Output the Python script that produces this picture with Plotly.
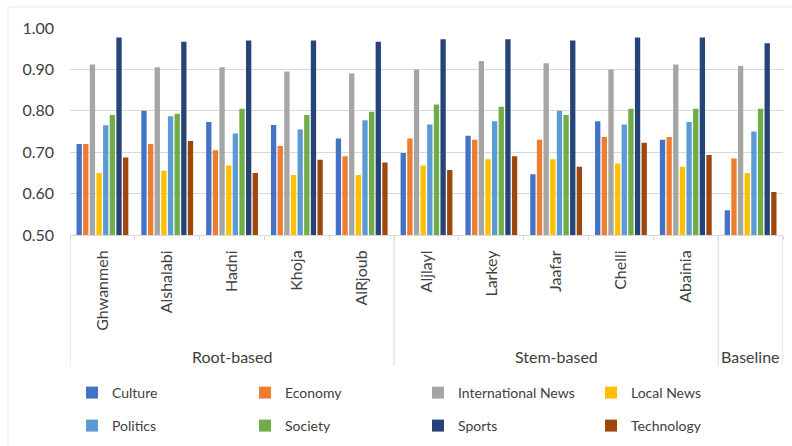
import plotly.graph_objects as go

methods = ["Ghwanmeh", "Alshalabi", "Hadni", "Khoja", "AlRjoub",
           "Aljlayl", "Larkey", "Jaafar", "Chelli", "Abainia", "Baseline_"]
method_labels = ["Ghwanmeh", "Alshalabi", "Hadni", "Khoja", "AlRjoub",
                 "Aljlayl", "Larkey", "Jaafar", "Chelli", "Abainia", ""]
groups = ["Root-based", "Stem-based", "Baseline"]
group_spans = [(-0.5, 4.5), (4.5, 9.5), (9.5, 10.5)]

culture = [0.72, 0.80, 0.773, 0.766, 0.733, 0.698, 0.740, 0.647, 0.775, 0.730, 0.560]
economy = [0.72, 0.72, 0.705, 0.715, 0.690, 0.733, 0.730, 0.730, 0.737, 0.737, 0.685]
international = [0.912, 0.905, 0.905, 0.895, 0.890, 0.900, 0.920, 0.915, 0.900, 0.912, 0.908]
local_news = [0.650, 0.655, 0.668, 0.645, 0.645, 0.668, 0.683, 0.683, 0.673, 0.665, 0.650]
politics = [0.765, 0.787, 0.745, 0.755, 0.777, 0.767, 0.775, 0.800, 0.767, 0.773, 0.750]
society = [0.790, 0.793, 0.805, 0.790, 0.798, 0.815, 0.810, 0.790, 0.805, 0.805, 0.805]
sports = [0.977, 0.967, 0.970, 0.970, 0.967, 0.973, 0.973, 0.970, 0.977, 0.977, 0.963]
technology = [0.687, 0.727, 0.650, 0.682, 0.675, 0.657, 0.690, 0.665, 0.723, 0.693, 0.604]

series = [
    ("Culture", culture, "#4472C4", "legend"),
    ("Economy", economy, "#ED7D31", "legend"),
    ("International News", international, "#A5A5A5", "legend"),
    ("Local News", local_news, "#FFC000", "legend"),
    ("Politics", politics, "#5B9BD5", "legend2"),
    ("Society", society, "#70AD47", "legend2"),
    ("Sports", sports, "#264478", "legend2"),
    ("Technology", technology, "#9E480E", "legend2"),
]

FONT = "Lato"
TXT = "#404040"
GRID = "#D9D9D9"

fig = go.Figure()
for name, vals, color, lg in series:
    fig.add_trace(go.Bar(x=methods, y=vals, name=name, marker_color=color,
                         marker_line_width=0, legend=lg))

W, H = 792, 446
L, R, T, B = 70, 9, 28, 211
pw, ph = W - L - R, H - T - B

def py(p):
    return (H - B - p) / ph

def px(p):
    return (p - L) / pw

shapes = []
# divider lines under the category axis
for xv in [-0.5, 4.5, 9.5, 10.5]:
    shapes.append(dict(type="line", xref="x", yref="paper", x0=xv, x1=xv,
                       y0=0, y1=py(366), line=dict(color=GRID, width=1)))
# chart border
shapes.append(dict(type="line", xref="paper", yref="paper", x0=px(8), x1=px(800),
                   y0=py(7), y1=py(7), line=dict(color="#E6E6E6", width=1)))
shapes.append(dict(type="line", xref="paper", yref="paper", x0=px(8), x1=px(8),
                   y0=py(7), y1=py(450), line=dict(color="#E6E6E6", width=1)))

annotations = []
for g, (a, b) in zip(groups, group_spans):
    annotations.append(dict(text=g, xref="x", yref="paper", x=(a + b) / 2, y=py(356),
                            showarrow=False, xanchor="center", yanchor="middle",
                            font=dict(family=FONT, size=16, color=TXT)))

fig.update_layout(
    width=W, height=H,
    margin=dict(l=L, r=R, t=T, b=B, pad=0, autoexpand=False),
    paper_bgcolor="white", plot_bgcolor="white",
    barmode="group", bargap=0.18, bargroupgap=0.2,
    font=dict(family=FONT, color=TXT),
    shapes=shapes, annotations=annotations,
    legend=dict(orientation="h", x=px(72), y=py(393), xanchor="left", yanchor="middle",
                entrywidth=128, entrywidthmode="pixels", font=dict(family=FONT, size=14, color=TXT),
                bgcolor="rgba(0,0,0,0)", itemclick=False),
    legend2=dict(orientation="h", x=px(72), y=py(426), xanchor="left", yanchor="middle",
                 entrywidth=128, entrywidthmode="pixels", font=dict(family=FONT, size=14, color=TXT),
                 bgcolor="rgba(0,0,0,0)", itemclick=False),
)
fig.update_yaxes(range=[0.5, 1.0], dtick=0.1, tickformat=".2f", showgrid=True,
                 gridcolor=GRID, gridwidth=1, zeroline=False, showline=False,
                 tickfont=dict(family=FONT, size=16, color=TXT), ticks="", ticklabelstandoff=15,
                 automargin=False)
fig.update_xaxes(type="category", tickmode="array", tickvals=methods, ticktext=method_labels,
                 tickangle=-90, showline=True, linecolor=GRID, linewidth=1,
                 ticks="outside", tickson="boundaries", ticklen=4, tickcolor=GRID,
                 tickfont=dict(family=FONT, size=16, color=TXT), range=[-0.5, 10.5],
                 ticklabelstandoff=8, automargin=False)

fig.write_html("out.html")
